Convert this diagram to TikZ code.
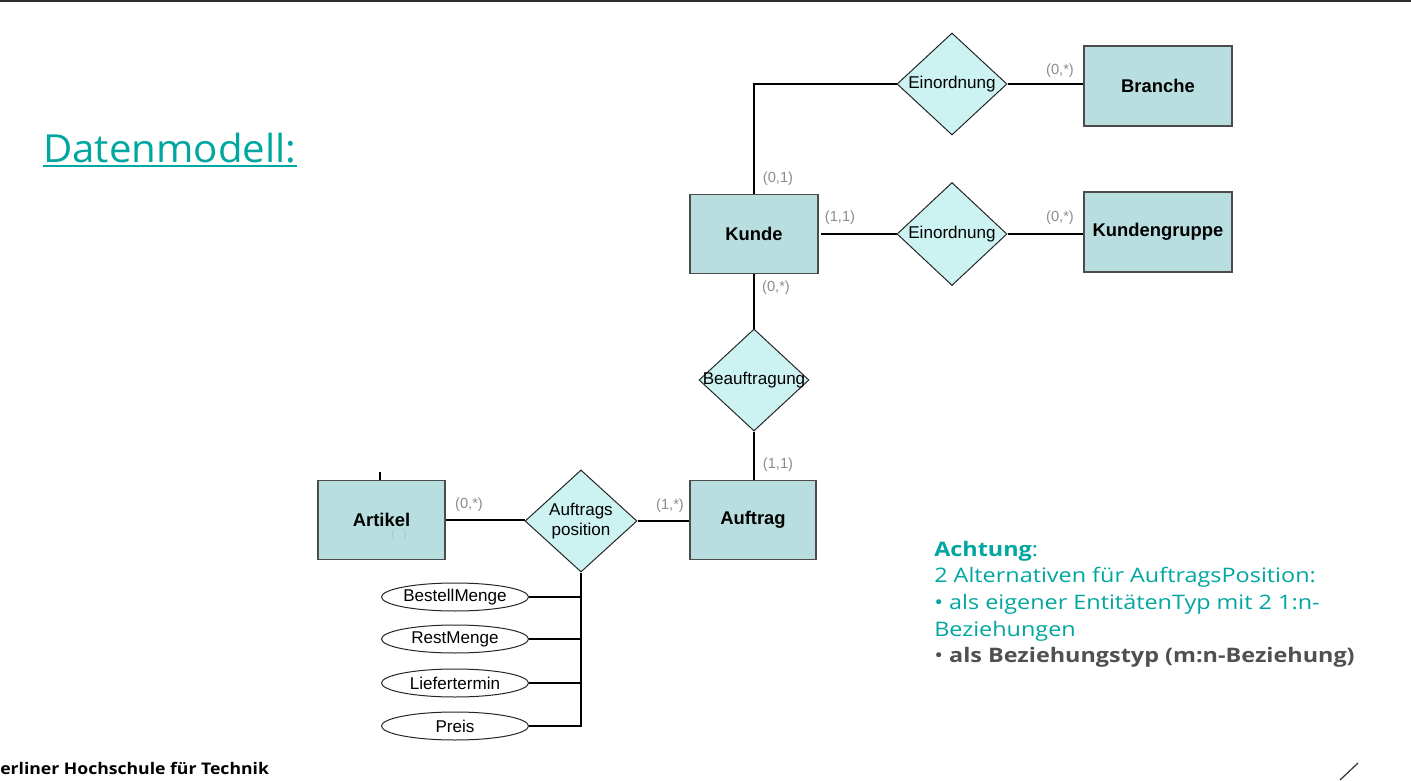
\documentclass[tikz,border=0pt]{standalone}
\usepackage{fontspec}
\setmainfont{Open Sans}
\newfontfamily\arial{Liberation Sans}
\newfontfamily\titlefont[FakeStretch=1.04]{Open Sans}
\newfontfamily\notefont[FakeStretch=1.17]{Open Sans}
\newfontfamily\footfont[FakeStretch=1.1]{Open Sans}
\usetikzlibrary{shapes.geometric}
\newlength\pxu \setlength\pxu{0.75pt}
\definecolor{bhtteal}{RGB}{0,166,160}
\definecolor{entfill}{RGB}{184,222,224}
\definecolor{relfill}{RGB}{205,242,242}
\definecolor{cardgray}{RGB}{140,140,140}
\definecolor{darktext}{RGB}{80,80,80}
\definecolor{topbar}{RGB}{45,45,45}
\begin{document}
\begin{tikzpicture}[x=0.75pt,y=-0.75pt,
  entity/.style={draw=black!70, line width=1.6\pxu, fill=entfill, minimum width=128\pxu, minimum height=79\pxu, inner sep=0, font=\arial\fontsize{13.8}{15}\selectfont\bfseries},
  wideentity/.style={entity, minimum width=148\pxu, minimum height=80\pxu},
  rel/.style={diamond, draw=black!85, line width=1\pxu, fill=relfill, minimum width=110\pxu, minimum height=102\pxu, inner sep=0},
  rellabel/.style={font=\arial\fontsize{12.8}{15}\selectfont, align=center, inner sep=0},
  attr/.style={ellipse, draw=black!85, line width=1\pxu, fill=white, minimum width=147\pxu, minimum height=28\pxu, inner sep=0, font=\arial\fontsize{12.8}{14}\selectfont},
  card/.style={font=\arial\fontsize{11}{12}\selectfont, text=cardgray, inner sep=0},
  conn/.style={draw=black, line width=1.2\pxu},
]
\useasboundingbox (0,0) rectangle (1411,781);
\fill[white] (0,0) rectangle (1411,781);
\fill[topbar] (0,0) rectangle (1411,2.5);

% title
\node[anchor=base west, inner sep=0, text=bhtteal, font=\titlefont\fontsize{29}{34}\selectfont] (title) at (43,163) {Datenmodell:};
\draw[bhtteal, line width=2\pxu] ([yshift=-2.2pt]title.base west) -- ([yshift=-2.2pt]title.base east);

% entities
\node[wideentity] (branche) at (1158,86) {Branche};
\node[wideentity] (kgruppe) at (1158,232) {Kundengruppe};
\node[entity] (kunde) at (754,234) {Kunde};
\node[entity, minimum width=126\pxu] (auftrag) at (753,520) {Auftrag};
\node[entity, minimum width=127\pxu] (artikel) at (381.5,520) {Artikel};
\node[card, text=cardgray!55, font=\arial\fontsize{9}{10}\selectfont] (ghost) at (399,535) {(\hspace{6pt})};

% relationships
\node[rel, label={[rellabel]center:Einordnung}] (ein1) at (952,84) {};
\node[rel, minimum height=103\pxu, label={[rellabel]center:Einordnung}] (ein2) at (952,234) {};
\node[rel, label={[rellabel]center:Beauftragung}] (beauf) at (754,380) {};
\node[rel, minimum width=112\pxu, label={[rellabel]center:Auftrags\\position}] (ap) at (581,521) {};

% attributes
\node[attr] (bm) at (455,597) {BestellMenge};
\node[attr] (rm) at (455,639) {RestMenge};
\node[attr] (lt) at (455,683) {Liefertermin};
\node[attr] (pr) at (455,726) {Preis};

% connectors
\draw[conn] (kunde.north) |- (ein1.west);
\draw[conn] (ein1.east) -- (ein1.east -| branche.west);
\draw[conn] ([xshift=1.5pt]kunde.east) -- (ein2.west);
\draw[conn] (ein2.east) -- (ein2.east -| kgruppe.west);
\draw[conn] (kunde.south) -- (beauf.north);
\draw[conn] (beauf.south) -- (beauf.south |- auftrag.north);
\draw[conn] (artikel.east) -- (artikel.east -| ap.west);
\draw[conn] (ap.east) -- (ap.east -| auftrag.west);
\draw[conn] (ap.south) |- (pr.east);
\draw[conn] (bm.east) -- (bm.east -| ap.south);
\draw[conn] (rm.east) -- (rm.east -| ap.south);
\draw[conn] (lt.east) -- (lt.east -| ap.south);
\coordinate (atick) at (380,472);
\draw[conn] (atick) -- (atick |- artikel.north);

% cardinalities
\node[card] (c1) at (778,179) {(0,1)};
\node[card] (c2) at (840,218) {(1,1)};
\node[card] (c3) at (1060,71) {(0,*)};
\node[card] (c4) at (1060,218) {(0,*)};
\node[card] (c5) at (776,288) {(0,*)};
\node[card] (c6) at (778,465) {(1,1)};
\node[card] (c7) at (469,505) {(0,*)};
\node[card] (c8) at (670,506) {(1,*)};

% note
\node[anchor=north west, inner sep=0, align=left, text=bhtteal, font=\notefont\fontsize{15}{19.9}\selectfont] (note) at (934,541)
  {\textbf{Achtung}:\\
   2 Alternativen für AuftragsPosition:\\
   • als eigener EntitätenTyp mit 2 1:n-\\
   Beziehungen\\
   \textcolor{darktext}{• \textbf{als Beziehungstyp (m:n-Beziehung)}}};

% footer
\node[anchor=west, inner sep=0, font=\footfont\fontsize{12}{14}\selectfont\bfseries, text=black] (footer) at (0,768) {erliner Hochschule für Technik};
\coordinate (s1) at (1340,780);
\coordinate (s2) at (1358,763);
\draw[black!80, line width=1.2\pxu] (s1) -- (s2);
\end{tikzpicture}
\end{document}
